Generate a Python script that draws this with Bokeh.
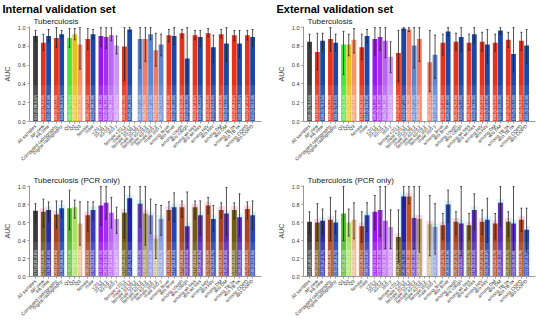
import math
from bokeh.plotting import figure
from bokeh.layouts import column, row
from bokeh.models import ColumnDataSource, Title, FixedTicker, Range1d
from bokeh.embed import file_html
from bokeh.resources import INLINE
from bokeh.core.properties import value

NAN = float("nan")

# ---------------- categories ----------------
labels = ["All samples", "AP view", "PA view", "Computed radiography", "Digital radiography",
          "Q1", "Q2", "Q3", "female", "male",
          "<20 y", "20-39 y", "40-59 y", "\u226560 y",
          "female <20 y", "male <20 y", "female 20-39 y", "male 20-39 y",
          "female 40-59 y", "male 40-59 y", "female \u226560 y", "male \u226560 y",
          "among fever", "w/o fever", "among cough", "w/o cough",
          "among wt loss", "w/o wt loss", "among HIV", "w/o HIV",
          "among DM", "w/o DM", "among TB hx", "w/o TB hx",
          "among COPD", "w/o COPD"]
group_sizes = [1, 2, 2, 3, 2, 4, 8, 2, 2, 2, 2, 2, 2, 2]
# subgroup class per bar: "f" (red family), "m" (blue family), "o" (other)
klass = ["o", "f", "m", "f", "m", "o", "o", "o", "f", "m", "o", "o", "o", "o",
         "f", "m", "f", "m", "f", "m", "f", "m"] + ["f", "m"] * 7

# ---------------- values: internal, tuberculosis ----------------
int_tb_auc = [0.91, 0.84, 0.91, 0.89, 0.93, 0.89, 0.93, 0.82, 0.88, 0.93, 0.91, 0.90, 0.92, 0.81,
              0.80, 0.98, NAN, 0.88, 0.88, 0.93, 0.76, 0.82,
              0.92, 0.91, 0.94, 0.67, 0.92, 0.90, 0.94, 0.79, 0.93, 0.83, 0.92, 0.83, 0.92, 0.90]
int_tb_lo = [0.86, 0.76, 0.85, 0.79, 0.89, 0.79, 0.87, 0.56, 0.77, 0.88, 0.80, 0.78, 0.86, 0.72,
             0.44, 0.96, NAN, 0.57, 0.64, 0.87, 0.59, 0.70,
             0.85, 0.82, 0.89, 0.30, 0.87, 0.80, 0.90, 0.63, 0.89, 0.64, 0.86, 0.68, 0.87, 0.80]
int_tb_hi = [0.97, 0.93, 0.98, 1.00, 0.97, 0.99, 0.99, 1.00, 0.99, 0.98, 1.00, 1.00, 1.00, 0.91,
             1.00, 1.00, NAN, 1.00, 1.00, 1.00, 0.94, 0.93,
             0.98, 1.00, 0.98, 1.00, 0.97, 0.97, 0.99, 0.92, 0.98, 1.00, 0.97, 0.97, 0.97, 0.98]

# ---------------- values: external, tuberculosis ----------------
ext_tb_auc = [0.85, 0.74, 0.86, 0.88, 0.84, 0.82, 0.82, 0.87, 0.79, 0.91, 0.88, 0.90, 0.86, 0.69,
              0.73, 0.99, 0.98, 0.81, 0.88, NAN, 0.63, 0.71,
              0.84, 0.96, 0.85, 0.90, 0.84, 0.93, 0.85, 0.82, 0.84, 0.97, 0.87, 0.72, 0.86, 0.81]
ext_tb_lo = [0.78, 0.55, 0.76, 0.75, 0.75, 0.50, 0.70, 0.73, 0.66, 0.84, 0.71, 0.76, 0.68, 0.52,
             0.43, 0.97, 0.96, 0.57, 0.64, NAN, 0.32, 0.46,
             0.71, 0.91, 0.76, 0.75, 0.76, 0.84, 0.75, 0.62, 0.75, 0.93, 0.79, 0.53, 0.76, 0.62]
ext_tb_hi = [0.93, 0.94, 0.94, 1.00, 0.93, 0.96, 0.93, 0.99, 0.93, 0.98, 1.00, 1.00, 1.00, 0.85,
             0.97, 1.00, 1.00, 1.00, 1.00, NAN, 0.97, 0.92,
             0.93, 1.00, 0.94, 1.00, 0.93, 1.00, 0.95, 0.98, 0.93, 1.00, 0.95, 1.00, 0.95, 0.98]

# ---------------- values: internal, tuberculosis (PCR only) ----------------
int_pcr_auc = [0.73, 0.72, 0.74, 0.69, 0.76, 0.76, 0.77, 0.59, 0.68, 0.74, 0.79, 0.82, 0.71, 0.64,
               0.71, 0.87, NAN, 0.81, 0.70, 0.68, 0.42, 0.64,
               0.74, 0.77, 0.77, 0.56, 0.77, 0.68, 0.79, 0.64, 0.74, 0.70, 0.74, 0.66, 0.75, 0.68]
int_pcr_lo = [0.61, 0.55, 0.61, 0.54, 0.66, 0.52, 0.65, 0.35, 0.50, 0.63, 0.57, 0.64, 0.54, 0.48,
              0.43, 0.70, NAN, 0.55, 0.35, 0.48, 0.20, 0.46,
              0.63, 0.61, 0.66, 0.32, 0.64, 0.46, 0.70, 0.50, 0.65, 0.46, 0.64, 0.45, 0.64, 0.52]
int_pcr_hi = [0.81, 0.86, 0.83, 0.84, 0.84, 0.96, 0.85, 0.83, 0.83, 0.83, 1.00, 1.00, 0.88, 0.77,
              1.00, 1.00, NAN, 1.00, 1.00, 0.86, 0.80, 0.79,
              0.83, 0.93, 0.84, 0.94, 0.84, 0.84, 0.88, 0.79, 0.82, 0.99, 0.82, 0.92, 0.83, 0.84]

# ---------------- values: external, tuberculosis (PCR only) ----------------
ext_pcr_auc = [0.61, 0.60, 0.62, 0.63, 0.60, 0.70, 0.60, 0.63, 0.56, 0.68, 0.72, 0.74, 0.62, 0.55,
               0.44, 0.89, 0.89, 0.65, 0.64, NAN, 0.58, 0.55,
               0.57, 0.80, 0.61, 0.59, 0.57, 0.74, 0.61, 0.63, 0.59, 0.82, 0.61, 0.59, 0.63, 0.52]
ext_pcr_lo = [0.48, 0.40, 0.47, 0.40, 0.48, 0.40, 0.45, 0.42, 0.38, 0.50, 0.52, 0.45, 0.31, 0.31,
              0.16, 0.79, 0.81, 0.31, 0.27, NAN, 0.23, 0.25,
              0.42, 0.60, 0.47, 0.23, 0.42, 0.52, 0.47, 0.38, 0.42, 0.56, 0.45, 0.29, 0.50, 0.27]
ext_pcr_hi = [0.72, 0.81, 0.75, 0.88, 0.73, 1.00, 0.75, 0.82, 0.72, 0.82, 0.90, 1.00, 1.00, 0.74,
              0.74, 1.00, 1.00, 1.00, 1.00, NAN, 0.90, 0.81,
              0.70, 0.96, 0.72, 1.00, 0.70, 0.92, 0.74, 0.87, 0.70, 1.00, 0.72, 1.00, 0.76, 0.76]

y_ticks = [0.0, 0.2, 0.4, 0.6, 0.8, 1.0]

# ---------------- colours ----------------
RED, BLUE, DG = "#e5321b", "#1b47a8", "#3b3b3b"
P1, P2, P3, P4 = "#9717f0", "#a52ef2", "#bb66f2", "#c994f2"
LRED, LBLUE = "#f07a62", "#5f84cf"
tb_colors = [DG, RED, BLUE, RED, BLUE, "#3fe83a", "#e5c31a", "#f5956a", RED, BLUE,
             P1, P2, P3, P4, RED, BLUE, LRED, LBLUE, LRED, LBLUE, LRED, LBLUE] + [RED, BLUE] * 7
OLIVE, RUST, BLU2, PURB = "#6f5b12", "#a9441b", "#2545b5", "#5a2ab8"
pcr_colors = [DG, OLIVE, "#2c2ca6", RUST, BLU2, "#52b82a", "#a8e35f", "#e6b888", RUST, "#3a3ac0",
              P1, P2, P3, P4, OLIVE, "#2222a8", "#c0561e", "#6a3cc4", "#a8985a", "#8a8add",
              "#c8b888", "#8a9ae0",
              RUST, BLU2, RUST, PURB, OLIVE, PURB, RUST, BLU2, RUST, PURB, OLIVE, PURB, RUST, BLU2]
halo_colors = {"f": "#fbc9dd", "m": "#c6f1f8"}

# x positions: one unit per bar, half-unit gap between groups
xs = []
pos = 0.0
for g in group_sizes:
    for _ in range(g):
        xs.append(pos)
        pos += 1.0
    pos += 0.5

FONT = "Liberation Sans"


def panel(auc, lo, hi, colors, sub, main=None, top_h=18, frame_h=95, right=10, halo=False):
    keep = [i for i in range(len(xs)) if not math.isnan(auc[i])]
    src = ColumnDataSource(dict(
        x=[xs[i] for i in keep], top=[auc[i] for i in keep],
        lo=[lo[i] for i in keep], hi=[hi[i] for i in keep],
        c=[colors[i] for i in keep],
        txt=["%.2f (%.2f-%.2f)" % (auc[i], lo[i], hi[i]) for i in keep],
        x0=[xs[i] - 0.18 for i in keep], x1=[xs[i] + 0.18 for i in keep],
    ))
    p = figure(frame_width=232, frame_height=frame_h, output_backend="svg", toolbar_location=None,
               x_range=Range1d(-1.15, xs[-1] + 1.7), y_range=Range1d(0, 1.012),
               min_border_left=28, min_border_right=right, min_border_top=top_h, min_border_bottom=10,
               title=main if main else sub)
    p.title.text_font = FONT
    p.title.standoff = 0
    if main:
        p.title.text_font_size = "11px"
        p.title.text_font_style = "bold"
        p.title.text_color = "#000000"
        p.title.offset = -27
        t = Title(text=sub, text_font=FONT, text_font_size="8px", text_font_style="normal",
                  text_color="#222222", offset=4, standoff=1)
        p.add_layout(t, "above")
    else:
        p.title.text_font_size = "8px"
        p.title.text_font_style = "normal"
        p.title.text_color = "#222222"
        p.title.offset = 4
        p.title.standoff = 1
    p.outline_line_color = None
    p.grid.visible = False
    p.background_fill_color = "white"

    if halo:
        hk = [i for i in keep if klass[i] in halo_colors]
        hsrc = ColumnDataSource(dict(x=[xs[i] for i in hk],
                                     top=[min(auc[i] + 0.04, 1.0) for i in hk],
                                     c=[halo_colors[klass[i]] for i in hk]))
        p.vbar(x="x", top="top", bottom=0, width=1.35, fill_color="c", fill_alpha=0.75,
               line_color=None, source=hsrc)

    p.vbar(x="x", top="top", bottom=0, width=0.92, fill_color="c", line_color=None, source=src)
    p.vbar(x="x", top=0.385, bottom=0.0, width=0.92, fill_color="white", fill_alpha=0.1,
           line_color=None, source=src)
    p.text(x="x", y=0.012, text="txt", angle=math.pi / 2, text_font=value(FONT),
           text_font_size="3.6px", text_color="white", text_align="left", text_baseline="middle",
           source=src)
    p.segment(x0="x", x1="x", y0="lo", y1="hi", line_color="#222222", line_width=0.8, source=src)
    p.segment(x0="x0", x1="x1", y0="lo", y1="lo", line_color="#222222", line_width=0.8, source=src)
    p.segment(x0="x0", x1="x1", y0="hi", y1="hi", line_color="#222222", line_width=0.8, source=src)

    p.yaxis.ticker = FixedTicker(ticks=y_ticks)
    p.yaxis.major_label_overrides = {t: "%.1f" % t for t in y_ticks}
    p.yaxis.axis_label = "AUC"
    p.yaxis.axis_label_text_font = FONT
    p.yaxis.axis_label_text_font_size = "7px"
    p.yaxis.axis_label_text_font_style = "normal"
    p.yaxis.axis_label_standoff = 4
    p.yaxis.minor_tick_line_color = None

    p.xaxis.ticker = FixedTicker(ticks=xs)
    p.xaxis.major_label_overrides = {x: l for x, l in zip(xs, labels)}
    p.xaxis.major_label_orientation = math.pi / 4
    p.xaxis.minor_tick_line_color = None
    for ax in (p.xaxis, p.yaxis):
        ax.axis_line_color = "#999999"
        ax.major_tick_line_color = "#999999"
        ax.major_tick_out = 2
        ax.major_tick_in = 0
        ax.major_label_text_font = FONT
        ax.major_label_text_color = "#333333"
        ax.major_label_standoff = 2
    p.yaxis.major_label_text_font_size = "5.5px"
    p.xaxis.major_label_text_font_size = "4.8px"
    return p


p1 = panel(int_tb_auc, int_tb_lo, int_tb_hi, tb_colors, "Tuberculosis", "Internal validation set",
           top_h=18, frame_h=95, right=13)
p2 = panel(ext_tb_auc, ext_tb_lo, ext_tb_hi, tb_colors, "Tuberculosis", "External validation set",
           top_h=18, frame_h=95, right=1)
p3 = panel(int_pcr_auc, int_pcr_lo, int_pcr_hi, pcr_colors, "Tuberculosis (PCR only)",
           top_h=19, frame_h=91, right=13, halo=True)
p4 = panel(ext_pcr_auc, ext_pcr_lo, ext_pcr_hi, pcr_colors, "Tuberculosis (PCR only)",
           top_h=19, frame_h=91, right=1, halo=True)

layout = column(row(p1, p2), row(p3, p4))
open("out.html", "w").write(file_html(layout, INLINE))
